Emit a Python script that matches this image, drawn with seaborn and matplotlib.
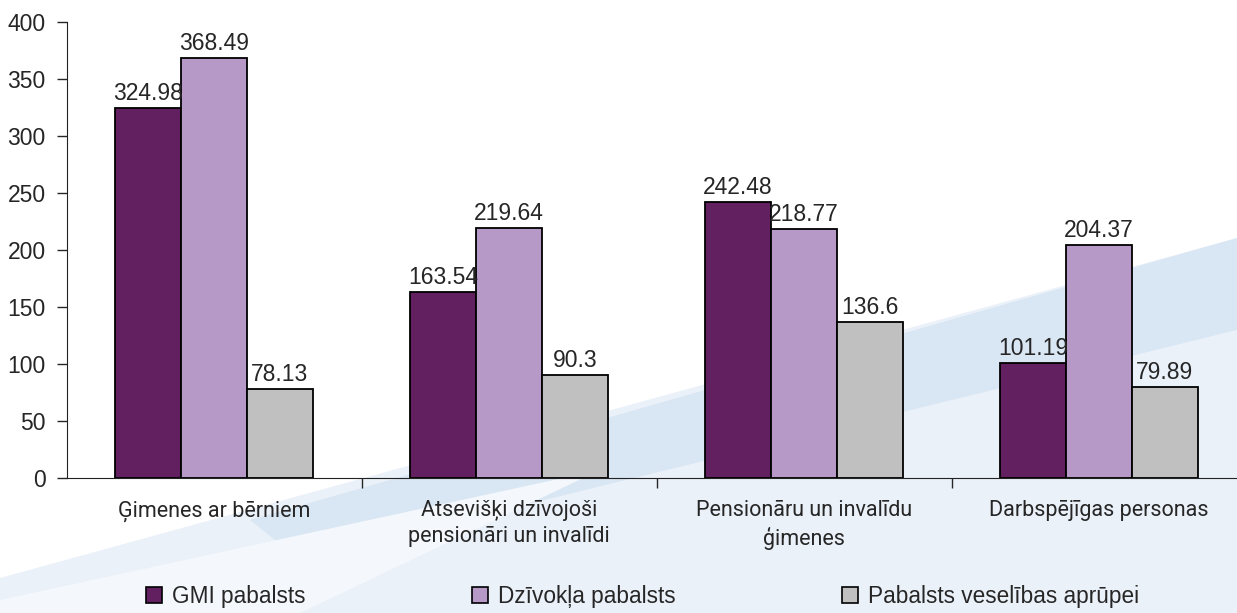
import numpy as np
import pandas as pd
import seaborn as sns
import matplotlib.pyplot as plt
from matplotlib.patches import Polygon
from matplotlib.lines import Line2D

# Chart data
categories = ['Ģimenes ar bērniem',
              'Atsevišķi dzīvojoši\npensionāri un invalīdi',
              'Pensionāru un invalīdu\nģimenes',
              'Darbspējīgas personas']
series = ['GMI pabalsts', 'Dzīvokļa pabalsts', 'Pabalsts veselības aprūpei']
gmi = [324.98, 163.54, 242.48, 101.19]
dzivoklis = [368.49, 219.64, 218.77, 204.37]
veseliba = [78.13, 90.3, 136.6, 79.89]
colors = ['#622060', '#b799c8', '#c0c0c0']

df = pd.DataFrame({
    'kategorija': categories * 3,
    'pabalsts': [s for s in series for _ in categories],
    'vertiba': gmi + dzivoklis + veseliba,
})

sns.set_style('white')
plt.rcParams['font.family'] = ['Liberation Sans', 'DejaVu Sans']

fig = plt.figure(figsize=(12.37, 6.13), dpi=100)

# light blue swoosh in the background
W, H = 1237, 613
bg = fig.add_axes([0, 0, 1, 1], zorder=-5)
bg.set_axis_off()
bg.set_xlim(0, W)
bg.set_ylim(H, 0)
bg.add_patch(Polygon([(0, 613), (0, 578), (1237, 238), (1237, 613)],
                     facecolor='#ebf1f9', edgecolor='none'))
bg.add_patch(Polygon([(250, 520), (1237, 238), (1237, 330), (300, 560)],
                     facecolor='#d9e6f3', edgecolor='none'))
bg.add_patch(Polygon([(0, 613), (0, 600), (600, 470), (300, 613)],
                     facecolor='#f4f7fb', edgecolor='none'))

ax = fig.add_axes([66.5 / W, 1 - 478 / H, 1180 / W, 456 / H])
ax.set_facecolor('none')

sns.barplot(data=df, x='kategorija', y='vertiba', hue='pabalsts',
            palette=colors, width=0.67, edgecolor='black', linewidth=1.3,
            saturation=1, ax=ax)

for cont in ax.containers:
    ax.bar_label(cont, fmt='{:g}', fontsize=16.5, padding=2)

ax.set_ylim(0, 400)
ax.set_xlim(-0.5, 3.5)
ax.set_yticks(np.arange(0, 401, 50))
ax.set_xlabel('')
ax.set_ylabel('')
ax.tick_params(axis='y', labelsize=16.5, length=7, width=1, direction='out', pad=8, left=True)
ax.tick_params(axis='x', labelsize=15.5, length=0, pad=16)
ax.set_xticks([0.5, 1.5, 2.5], minor=True)
ax.tick_params(axis='x', which='minor', length=7, width=1, direction='out', bottom=True)
for lab in ax.get_xticklabels():
    lab.set_fontfamily(['Roboto', 'DejaVu Sans'])
    lab.set_linespacing(1.3)
sns.despine(ax=ax, top=True, right=True)
ax.spines['left'].set_color('#222222')
ax.spines['bottom'].set_color('#222222')

ax.legend_.remove()
h2 = [Line2D([], [], marker='s', linestyle='none', markersize=11,
             markerfacecolor=c, markeredgecolor='black', markeredgewidth=1.2)
      for c in colors]
fig.legend(h2, series, loc='lower left', bbox_to_anchor=(122 / W, -0.025), ncol=3,
           frameon=False, fontsize=16.3, handletextpad=0.3, columnspacing=7.2,
           handlelength=1.0)

fig.savefig('out.png', dpi=100)
